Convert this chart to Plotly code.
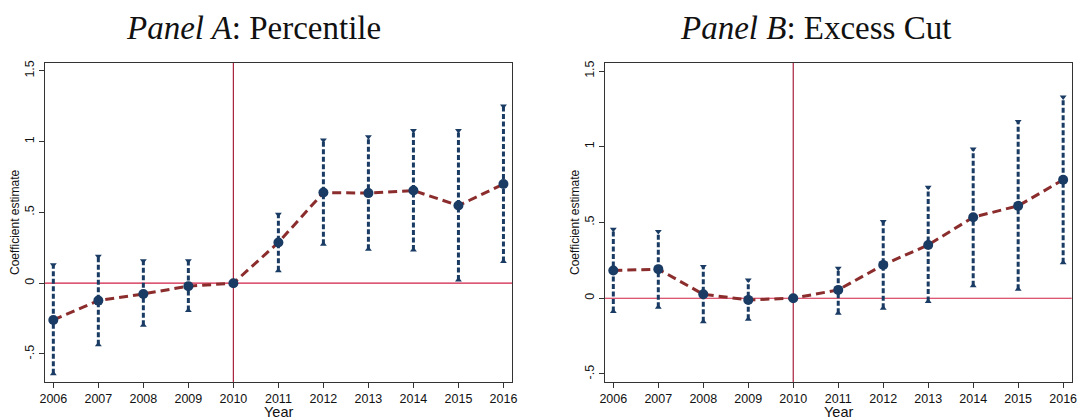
import plotly.graph_objects as go

years = [2006, 2007, 2008, 2009, 2010, 2011, 2012, 2013, 2014, 2015, 2016]

# Panel A: Percentile
a_coef = [-0.26, -0.123, -0.076, -0.021, 0.0, 0.287, 0.64, 0.636, 0.654, 0.548, 0.70]
a_lo = [-0.64, -0.435, -0.297, -0.193, None, 0.087, 0.275, 0.24, 0.235, 0.023, 0.153]
a_hi = [0.13, 0.19, 0.158, 0.158, None, 0.487, 1.012, 1.035, 1.078, 1.078, 1.252]

# Panel B: Excess Cut
b_coef = [0.183, 0.192, 0.026, -0.011, 0.0, 0.055, 0.22, 0.352, 0.535, 0.61, 0.782]
b_lo = [-0.088, -0.06, -0.155, -0.139, None, -0.099, -0.066, -0.022, 0.083, 0.059, 0.235]
b_hi = [0.456, 0.44, 0.209, 0.121, None, 0.198, 0.506, 0.733, 0.985, 1.167, 1.328]

ytick_vals = [-0.5, 0, 0.5, 1, 1.5]
ytick_text = ["-.5", "0", ".5", "1", "1.5"]

NAVY = "#1a3b63"
MAROON = "#8b2d2d"
REDLINE = "#cf1f45"
VLINE = "#a8203c"

W, H = 1079, 419


def px(p):
    return p / W


def py(p):
    return 1 - p / H


fig = go.Figure()


def add_panel(coef, lo, hi, xa, ya):
    ex, ey = [], []
    cx_hi, cy_hi, cx_lo, cy_lo = [], [], [], []
    for yr, l, h in zip(years, lo, hi):
        if l is None or h is None:
            continue
        ex += [yr, yr, None]
        ey += [l, h, None]
        cx_hi.append(yr); cy_hi.append(h)
        cx_lo.append(yr); cy_lo.append(l)
    fig.add_trace(go.Scatter(x=ex, y=ey, mode="lines", xaxis=xa, yaxis=ya,
                             line=dict(color=NAVY, width=3, dash="5px,2.5px"),
                             showlegend=False, hoverinfo="skip"))
    fig.add_trace(go.Scatter(x=cx_hi, y=cy_hi, mode="markers", xaxis=xa, yaxis=ya,
                             marker=dict(symbol="triangle-down", size=6, color=NAVY),
                             showlegend=False))
    fig.add_trace(go.Scatter(x=cx_lo, y=cy_lo, mode="markers", xaxis=xa, yaxis=ya,
                             marker=dict(symbol="triangle-up", size=6, color=NAVY),
                             showlegend=False))
    fig.add_trace(go.Scatter(x=years, y=coef, mode="lines", xaxis=xa, yaxis=ya,
                             line=dict(color=MAROON, width=3, dash="9px,5px"),
                             showlegend=False))
    fig.add_trace(go.Scatter(x=years, y=coef, mode="markers", xaxis=xa, yaxis=ya,
                             marker=dict(symbol="circle", size=10, color=NAVY),
                             showlegend=False))


add_panel(a_coef, a_lo, a_hi, "x", "y")
add_panel(b_coef, b_lo, b_hi, "x2", "y2")

ydom = [py(382), py(63)]
axis_common = dict(showline=True, linecolor="#333333", linewidth=1.2, mirror=True,
                   ticks="outside", ticklen=5, tickcolor="#333333", showgrid=False,
                   zeroline=False, automargin=False,
                   tickfont=dict(family="Liberation Sans, Arial", size=12.5, color="#111111"))

xa_common = dict(axis_common, tickvals=years, ticktext=[str(y) for y in years],
                 range=[2005.815, 2016.19])

title_font = dict(family="Liberation Serif, serif", size=33, color="#111111")
lab_font = dict(family="Liberation Sans, Arial", size=12, color="#111111")
year_font = dict(family="Liberation Sans, Arial", size=14.5, color="#111111")

fig.update_layout(
    width=W, height=H,
    margin=dict(l=0, r=0, t=0, b=0),
    paper_bgcolor="white", plot_bgcolor="white",
    xaxis=dict(xa_common, domain=[px(45), px(512)], anchor="y"),
    yaxis=dict(axis_common, domain=ydom, anchor="x", range=[-0.698, 1.555],
               tickvals=ytick_vals, ticktext=ytick_text, tickangle=-90),
    xaxis2=dict(xa_common, domain=[px(605), px(1071.7)], anchor="y2"),
    yaxis2=dict(axis_common, domain=ydom, anchor="x2", range=[-0.553, 1.553],
                tickvals=ytick_vals, ticktext=ytick_text, tickangle=-90),
    shapes=[
        dict(type="line", xref="x", yref="y domain", x0=2010, x1=2010, y0=0, y1=1,
             line=dict(color=VLINE, width=1.2), layer="below"),
        dict(type="line", xref="x domain", yref="y", x0=0, x1=1, y0=0, y1=0,
             line=dict(color=REDLINE, width=1.2), layer="below"),
        dict(type="line", xref="x2", yref="y2 domain", x0=2010, x1=2010, y0=0, y1=1,
             line=dict(color=VLINE, width=1.2), layer="below"),
        dict(type="line", xref="x2 domain", yref="y2", x0=0, x1=1, y0=0, y1=0,
             line=dict(color=REDLINE, width=1.2), layer="below"),
    ],
    annotations=[
        dict(text="<i>Panel A</i>: Percentile", x=px(253), y=py(28), xref="paper", yref="paper",
             showarrow=False, xanchor="center", yanchor="middle", font=title_font),
        dict(text="<i>Panel B</i>: Excess Cut", x=px(815), y=py(28), xref="paper", yref="paper",
             showarrow=False, xanchor="center", yanchor="middle", font=title_font),
        dict(text="Coefficient estimate", x=px(15), y=py(223), xref="paper", yref="paper",
             showarrow=False, textangle=-90, xanchor="center", yanchor="middle", font=lab_font),
        dict(text="Coefficient estimate", x=px(575), y=py(223), xref="paper", yref="paper",
             showarrow=False, textangle=-90, xanchor="center", yanchor="middle", font=lab_font),
        dict(text="Year", x=px(278), y=py(411.5), xref="paper", yref="paper",
             showarrow=False, xanchor="center", yanchor="middle", font=year_font),
        dict(text="Year", x=px(838), y=py(411.5), xref="paper", yref="paper",
             showarrow=False, xanchor="center", yanchor="middle", font=year_font),
    ],
)

fig.write_html("out.html", config={"displayModeBar": False},
               post_script="document.body.style.margin='0';document.body.style.overflow='hidden';")
